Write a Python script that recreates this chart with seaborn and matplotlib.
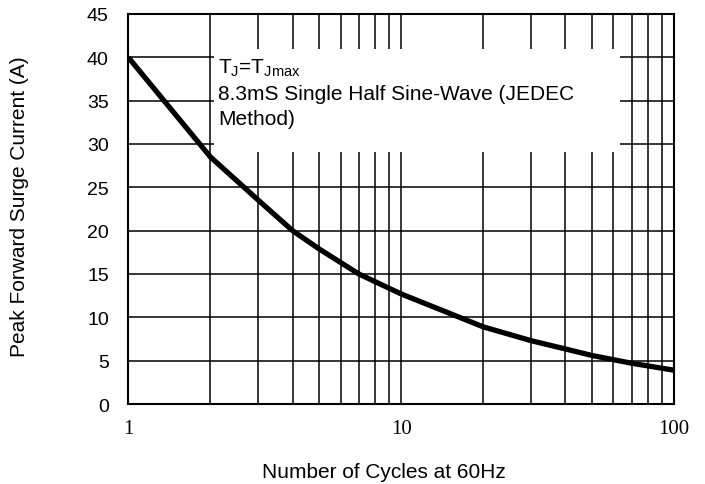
import matplotlib
matplotlib.use("Agg")
import matplotlib.pyplot as plt
from matplotlib.patches import Rectangle
from matplotlib.ticker import FixedLocator, NullFormatter
import seaborn as sns
import pandas as pd

cycles = [1, 2, 3, 4, 5, 7, 10, 20, 30, 40, 50, 70, 100]
current = [40.0, 28.5, 23.5, 20.0, 17.9, 15.0, 12.7, 8.9, 7.3, 6.35, 5.6, 4.7, 3.9]
x_ticks = [1, 10, 100]
x_tick_labels = ["1", "10", "100"]
y_ticks = [0, 5, 10, 15, 20, 25, 30, 35, 40, 45]

sns.set_style("white")
plt.rcParams['font.family'] = ['Liberation Sans', 'DejaVu Sans']
plt.rcParams['mathtext.fontset'] = 'custom'
plt.rcParams['mathtext.rm'] = 'Liberation Sans'
plt.rcParams['mathtext.it'] = 'Liberation Sans'
for k in ('text.color', 'axes.labelcolor', 'xtick.color', 'ytick.color'):
    plt.rcParams[k] = 'black'

W, H = 705, 485
L, R, T, B = 128.3, 674, 15, 405
fig = plt.figure(figsize=(W / 100, H / 100), dpi=100)
ax = fig.add_axes([L / W, 1 - B / H, (R - L) / W, (B - T) / H])

df = pd.DataFrame({"cycles": cycles, "current": current})
sns.lineplot(data=df, x="cycles", y="current", ax=ax, color="black", lw=3.8,
             zorder=4, solid_joinstyle="round", solid_capstyle="butt")

ax.set_xscale("log")
ax.set_xlim(1, 100)
ax.set_ylim(0, 45)

ax.xaxis.set_major_locator(FixedLocator(x_ticks))
ax.set_xticklabels(x_tick_labels, family="Liberation Serif", fontsize=15)
minor = [m * d for d in (1, 10) for m in range(2, 10)]
ax.xaxis.set_minor_locator(FixedLocator(minor))
ax.xaxis.set_minor_formatter(NullFormatter())
ax.set_yticks(y_ticks)
ax.set_yticklabels([str(v) for v in y_ticks], fontsize=14)
ax.tick_params(axis="both", which="both", length=0)
ax.tick_params(axis="x", pad=11)
ax.tick_params(axis="y", pad=14)

ax.grid(True, which="both", axis="x", color="black", lw=1.1)
ax.grid(True, which="major", axis="y", color="black", lw=1.1)
ax.set_axisbelow(True)

for s in ax.spines.values():
    s.set_color("black")
    s.set_linewidth(1.5)

ax.add_patch(Rectangle((2.06, 29.1), 63.5 - 2.06, 41.0 - 29.1,
                       facecolor="white", edgecolor="none", zorder=2))

ax.text(2.13, 38.2, r"T$_\mathrm{J}$=T$_\mathrm{Jmax}$", fontsize=15, zorder=5,
        va="baseline", ha="left")
ax.text(2.13, 35.2, "8.3mS Single Half Sine-Wave (JEDEC", fontsize=15, zorder=5,
        va="baseline", ha="left")
ax.text(2.13, 32.3, "Method)", fontsize=15, zorder=5, va="baseline", ha="left")

ax.set_xlabel("Number of Cycles at 60Hz", fontsize=15)
ax.xaxis.set_label_coords((384 - L) / (R - L), -(478 - B) / (B - T))
ax.xaxis.label.set_va("baseline")
ax.set_ylabel("Peak Forward Surge Current (A)", fontsize=15)
ax.yaxis.set_label_coords(-(L - 29) / (R - L), (B - 207) / (B - T))

fig.savefig("out.png", dpi=100)
